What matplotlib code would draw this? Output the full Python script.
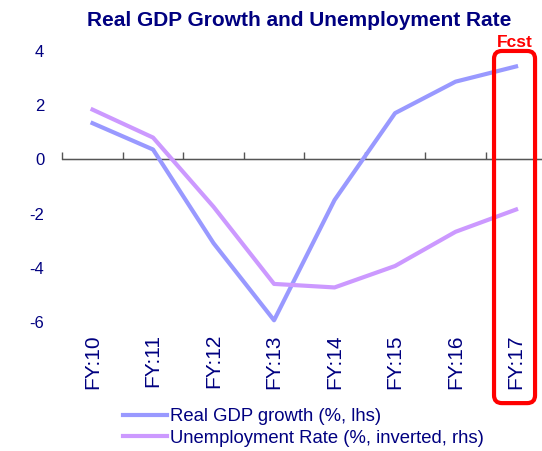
import matplotlib
matplotlib.use("Agg")
import matplotlib.pyplot as plt
from matplotlib.patches import FancyBboxPatch

plt.rcParams['font.family'] = ['Liberation Sans', 'DejaVu Sans']

categories = ["FY:10", "FY:11", "FY:12", "FY:13", "FY:14", "FY:15", "FY:16", "FY:17"]
gdp_growth = [1.33, 0.36, -3.09, -5.93, -1.5, 1.7, 2.86, 3.42]
# unemployment rate, inverted, read as plotted position on the lhs scale
unemployment_inv = [1.83, 0.80, -1.75, -4.59, -4.72, -3.93, -2.67, -1.85]
yticks = [4, 2, 0, -2, -4, -6]

NAVY = "#000080"
C_GDP = "#9999FF"
C_UNEMP = "#CC99FF"
RED = "#FF0000"

W, H = 542, 451
fig = plt.figure(figsize=(W / 100, H / 100), dpi=100)
left, right, top, bottom = 62.3, 546.3, 50.7, 322.2
ax = fig.add_axes([left / W, 1 - bottom / H, (right - left) / W, (bottom - top) / H])

x = list(range(len(categories)))
l1, = ax.plot(x, gdp_growth, color=C_GDP, lw=3, label="Real GDP growth (%, lhs)", clip_on=False, zorder=3)
l2, = ax.plot(x, unemployment_inv, color=C_UNEMP, lw=3, label="Unemployment Rate (%, inverted, rhs)", clip_on=False, zorder=3)

ax.set_xlim(-0.5, len(categories) - 0.5)
ax.set_ylim(-6, 4)
for s in ax.spines.values():
    s.set_visible(False)

ax.set_yticks(yticks)
ax.set_yticklabels([str(v) for v in yticks])
ax.tick_params(axis='y', length=0, pad=13, labelsize=12, labelcolor=NAVY)

ax.set_xticks(x)
ax.set_xticklabels(categories, rotation=90, va='top', ha='center')
ax.tick_params(axis='x', length=0, pad=8.5, labelsize=15, labelcolor=NAVY)

# zero axis with category boundary ticks
ax.axhline(0, color="#555555", lw=1, zorder=1)
sec = ax.secondary_xaxis(0.6)
sec.set_xticks([i - 0.5 for i in range(len(categories) + 1)])
sec.set_xticklabels([])
sec.tick_params(axis='x', direction='out', length=5, width=1, color="#555555")
sec.spines['bottom'].set_visible(False)

# Forecast box
px_x = 60.5
px_y = 27.15
bx0, bx1, by0, by1 = 6.636, 7.314, -8.98, 3.99
box = FancyBboxPatch((bx0, by0), bx1 - bx0, by1 - by0, boxstyle="round,pad=0,rounding_size=0.13",
                     transform=ax.transData, fill=False, ec=RED, lw=3, clip_on=False,
                     mutation_aspect=px_x / px_y, zorder=4)
ax.add_patch(box)
ax.text(6.975, 4.12, "Fcst", color=RED, fontsize=12.5, fontweight='bold', ha='center', va='baseline')

fig.text(299 / W, 1 - 20 / H, "Real GDP Growth and Unemployment Rate", ha='center', va='center',
         fontsize=15, fontweight='bold', color=NAVY)

leg = fig.legend(handles=[l1, l2], loc='upper left', bbox_to_anchor=(123 / W, 1 - 408 / H),
                 frameon=False, fontsize=13.3, handlelength=2.4, handletextpad=0.17,
                 labelspacing=0.25, borderaxespad=0, borderpad=0)
for t in leg.get_texts():
    t.set_color(NAVY)

fig.savefig("out.png", dpi=100)
